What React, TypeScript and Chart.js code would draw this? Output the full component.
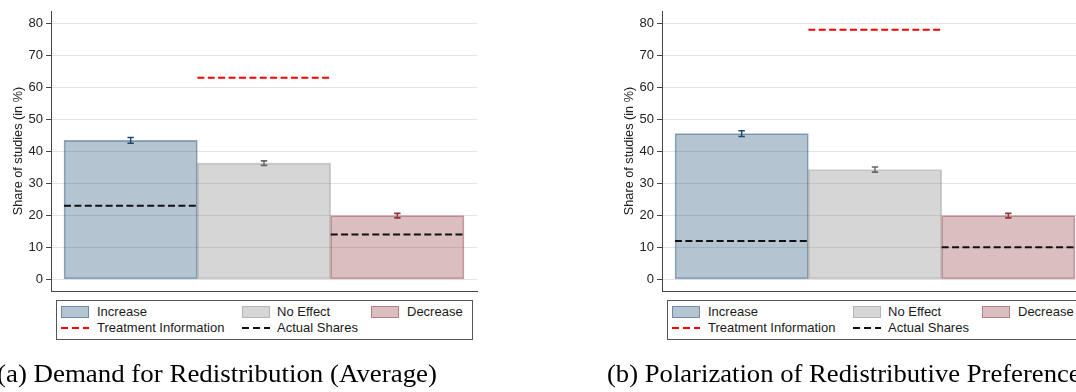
import React, { useEffect, useRef } from "react";
import { Chart, registerables } from "chart.js";
Chart.register(...registerables);

// ---------- data ----------
const categories = ["Increase", "No Effect", "Decrease"];
const lineLabels = ["Treatment Information", "Actual Shares"];
const yTicks = [0, 10, 20, 30, 40, 50, 60, 70, 80];

const sharesA = [43.4, 36.3, 19.9];
const errorsA = [0.9, 0.7, 0.7];
const treatmentA: (number | null)[] = [null, 63, null];
const actualA: (number | null)[] = [23, null, 14];

const sharesB = [45.5, 34.3, 19.9];
const errorsB = [0.9, 0.8, 0.7];
const treatmentB: (number | null)[] = [null, 78, null];
const actualB: (number | null)[] = [12, null, 10];

const captionA = "(a) Demand for Redistribution (Average)";
const captionB = "(b) Polarization of Redistributive Preferences";
const yTitle = "Share of studies (in %)";

// ---------- styles ----------
const barFill = ["rgba(26,71,111,0.32)", "rgba(128,128,128,0.32)", "rgba(144,53,59,0.32)"];
const barBorder = ["rgba(26,71,111,0.45)", "rgba(128,128,128,0.38)", "rgba(144,53,59,0.45)"];
const errColors = ["#1a476f", "#666666", "#90353b"];
const redLine = "#ff0000";
const blackLine = "#111111";
const sansFont = "'Liberation Sans', Arial, sans-serif";

function segmentDatasets(vals: (number | null)[], color: string, label: string) {
  const out: any[] = [];
  vals.forEach((v, i) => {
    if (v == null) return;
    out.push({
      type: "line",
      label,
      data: [
        { x: i, y: v },
        { x: i + 1, y: v },
      ],
      borderColor: color,
      borderWidth: 2,
      borderDash: [7, 3.4],
      pointRadius: 0,
      fill: false,
      order: 0,
    });
  });
  return out;
}

function Panel({
  left,
  shares,
  errors,
  treatment,
  actual,
}: {
  left: number;
  shares: number[];
  errors: number[];
  treatment: (number | null)[];
  actual: (number | null)[];
}) {
  const ref = useRef<HTMLCanvasElement | null>(null);
  useEffect(() => {
    if (!ref.current) return;
    const errorBarPlugin = {
      id: "errorBars" + left,
      afterDatasetsDraw(chart: any) {
        const x = chart.scales.x;
        const y = chart.scales.y;
        const ctx = chart.ctx;
        ctx.save();
        shares.forEach((v, i) => {
          const px = x.getPixelForValue(i + 0.5);
          const top = y.getPixelForValue(v + errors[i]);
          const bot = y.getPixelForValue(v - errors[i]);
          ctx.strokeStyle = errColors[i];
          ctx.lineWidth = 1.4;
          ctx.beginPath();
          ctx.moveTo(px, top);
          ctx.lineTo(px, bot);
          ctx.stroke();
          ctx.lineWidth = 1.6;
          ctx.beginPath();
          ctx.moveTo(px - 3.2, top);
          ctx.lineTo(px + 3.2, top);
          ctx.moveTo(px - 3.2, bot);
          ctx.lineTo(px + 3.2, bot);
          ctx.stroke();
        });
        ctx.restore();
      },
    };
    const chart = new Chart(ref.current, {
      type: "bar",
      data: {
        datasets: [
          {
            type: "bar",
            label: "shares",
            data: shares.map((v, i) => ({ x: i + 0.5, y: v })),
            backgroundColor: barFill,
            borderColor: barBorder,
            borderWidth: 1,
            borderSkipped: false,
            categoryPercentage: 1,
            barPercentage: 1,
            order: 10,
          } as any,
          ...segmentDatasets(treatment, redLine, lineLabels[0]),
          ...segmentDatasets(actual, blackLine, lineLabels[1]),
        ],
      },
      options: {
        animation: false,
        responsive: false,
        maintainAspectRatio: false,
        layout: { padding: { top: 11, right: 3, bottom: 9, left: 0 } },
        plugins: { legend: { display: false }, tooltip: { enabled: false } },
        scales: {
          x: {
            type: "linear",
            min: -0.0975,
            max: 3.0975,
            offset: false,
            afterBuildTicks: (s: any) => {
              s.ticks = categories.map((_, i) => ({ value: i + 0.5 }));
            },
            ticks: { display: false },
            grid: { display: true, drawOnChartArea: false, drawTicks: false, offset: false },
            border: { display: true, color: "#444444", width: 1 },
            afterFit: (s: any) => {
              s.height = 0;
              s.paddingLeft = 0;
              s.paddingRight = 0;
            },
          },
          y: {
            type: "linear",
            min: -3.656,
            max: 83.84,
            afterBuildTicks: (s: any) => {
              s.ticks = yTicks.map((v) => ({ value: v }));
            },
            afterFit: (s: any) => {
              s.width = 51;
              s.paddingTop = 0;
              s.paddingBottom = 0;
            },
            ticks: {
              font: { family: sansFont, size: 13 },
              color: "#222222",
              padding: 3,
            },
            grid: {
              color: "#e4e4e4",
              lineWidth: 1,
              tickColor: "#444444",
              tickLength: 5,
              drawTicks: true,
            },
            border: { display: true, color: "#444444", width: 1 },
            title: {
              display: true,
              text: yTitle,
              font: { family: sansFont, size: 12.7 },
              color: "#222222",
              padding: { top: 10.4, bottom: 0 },
            },
          },
        },
      } as any,
      plugins: [errorBarPlugin],
    });
    return () => chart.destroy();
  }, []);

  const textStyle: React.CSSProperties = {
    position: "absolute",
    fontFamily: sansFont,
    fontSize: 13,
    lineHeight: "16px",
    color: "#1a1a1a",
    whiteSpace: "nowrap",
  };
  const swatchX = [61, 242, 371];
  const textX = [97, 277, 407];
  const dashColors = [redLine, blackLine];

  return (
    <div style={{ position: "absolute", left, top: 0, width: 480, height: 392 }}>
      <canvas ref={ref} width={480} height={300} style={{ position: "absolute", left: 0, top: 0, width: 480, height: 300 }} />
      <div
        style={{
          position: "absolute",
          left: 56,
          top: 300,
          width: 417,
          height: 40,
          border: "1px solid #555555",
          boxSizing: "border-box",
        }}
      />
      {categories.map((c, i) => (
        <React.Fragment key={c}>
          <div
            style={{
              position: "absolute",
              left: swatchX[i],
              top: 306,
              width: 28,
              height: 12,
              background: barFill[i],
              border: "1px solid " + barBorder[i],
              boxSizing: "border-box",
            }}
          />
          <div style={{ ...textStyle, left: textX[i], top: 304 }}>{c}</div>
        </React.Fragment>
      ))}
      {lineLabels.map((l, i) => (
        <React.Fragment key={l}>
          {[0, 11, 22].map((dx) => (
            <div
              key={dx}
              style={{
                position: "absolute",
                left: swatchX[i] + dx,
                top: 326.5,
                width: dx === 22 ? 6 : 7,
                height: 2,
                background: dashColors[i],
              }}
            />
          ))}
          <div style={{ ...textStyle, left: textX[i], top: 320 }}>{l}</div>
        </React.Fragment>
      ))}
    </div>
  );
}

export default function App() {
  return (
    <div
      style={{
        position: "fixed",
        left: 0,
        top: 0,
        width: 1076,
        height: 392,
        overflow: "hidden",
        background: "#ffffff",
      }}
    >
      <Panel left={0} shares={sharesA} errors={errorsA} treatment={treatmentA} actual={actualA} />
      <Panel left={611} shares={sharesB} errors={errorsB} treatment={treatmentB} actual={actualB} />
      <svg width={1076} height={392} style={{ position: "absolute", left: 0, top: 0, pointerEvents: "none" }}>
        <text
          x={-3}
          y={382}
          textLength={440}
          lengthAdjust="spacingAndGlyphs"
          fontFamily="'Liberation Serif', 'Times New Roman', serif"
          fontSize={24.5}
          fill="#000000"
        >
          {captionA}
        </text>
        <text
          x={607}
          y={382}
          textLength={484}
          lengthAdjust="spacingAndGlyphs"
          fontFamily="'Liberation Serif', 'Times New Roman', serif"
          fontSize={24.5}
          fill="#000000"
        >
          {captionB}
        </text>
      </svg>
    </div>
  );
}
